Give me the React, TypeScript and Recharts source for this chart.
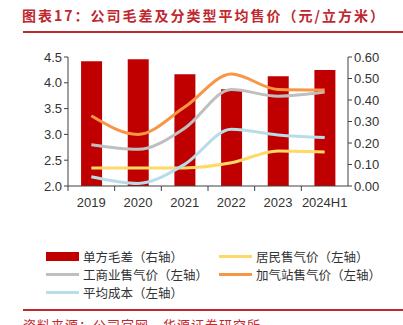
import { ComposedChart, Bar, Line, XAxis, YAxis } from 'recharts'

const years = ['2019', '2020', '2021', '2022', '2023', '2024H1']
const margin = [0.58, 0.59, 0.52, 0.45, 0.51, 0.54]
const residential = [2.35, 2.35, 2.35, 2.45, 2.68, 2.66]
const commercial = [2.8, 2.71, 3.12, 3.87, 3.74, 3.82]
const station = [3.36, 3.0, 3.53, 4.17, 3.87, 3.86]
const avgCost = [2.18, 2.05, 2.42, 3.1, 2.99, 2.94]
const leftTicks = [2.0, 2.5, 3.0, 3.5, 4.0, 4.5]
const rightTicks = [0, 0.1, 0.2, 0.3, 0.4, 0.5, 0.6]

const data = years.map((year, i) => ({
  year,
  margin: margin[i],
  residential: residential[i],
  commercial: commercial[i],
  station: station[i],
  avgCost: avgCost[i],
}))

const RED = '#C00000'
const AXIS = '#404040'
const FONT = '"Liberation Sans", Arial, "Noto Sans CJK SC", sans-serif'
const CJK = '"Noto Sans CJK SC", sans-serif'

const lines = [
  { key: 'residential', color: '#FFD966' },
  { key: 'commercial', color: '#BFBFBF' },
  { key: 'station', color: '#F79646' },
  { key: 'avgCost', color: '#B7DEE8' },
]

const legendRows = [
  [
    { label: '单方毛差（右轴）', color: RED, bar: true },
    { label: '居民售气价（左轴）', color: '#FFD966' },
  ],
  [
    { label: '工商业售气价（左轴）', color: '#BFBFBF' },
    { label: '加气站售气价（左轴）', color: '#F79646' },
  ],
  [{ label: '平均成本（左轴）', color: '#B7DEE8' }],
]

function YearTick(props: any) {
  const { x, y, payload } = props
  const half = payload?.offset ?? 23.3
  return (
    <g>
      <line x1={x - half} x2={x - half} y1={y} y2={y + 5} stroke={AXIS} strokeWidth={1} />
      <text x={x} y={y + 21} textAnchor="middle" fontSize={13} fill="#333" fontFamily={FONT}>
        {payload.value}
      </text>
    </g>
  )
}

export default function App() {
  return (
    <div style={{ position: 'absolute', left: 0, top: 0, width: 403, height: 325, background: '#fff', overflow: 'hidden' }}>
      <div
        style={{
          position: 'absolute', left: 22, top: 5, fontFamily: CJK, fontSize: 14, fontWeight: 700,
          letterSpacing: 2, color: '#C0282F', whiteSpace: 'nowrap',
        }}
      >
        图表17：公司毛差及分类型平均售价（元/立方米）
      </div>
      <div style={{ position: 'absolute', left: 23, top: 31, width: 380, height: 1.5, background: '#C0282F' }} />

      <div style={{ position: 'absolute', left: 0, top: 0 }}>
        <ComposedChart width={403} height={216} data={data} margin={{ top: 57, right: 0, bottom: 0, left: 0 }} barCategoryGap="28%">
          <XAxis
            dataKey="year"
            xAxisId="x"
            height={30}
            stroke={AXIS}
            tickLine={false}
            tickSize={0}
            tickMargin={0}
            tick={<YearTick />}
            interval={0}
          />
          <YAxis
            yAxisId="left"
            orientation="left"
            width={68}
            domain={[2, 4.5]}
            ticks={leftTicks}
            tickFormatter={(v: number) => v.toFixed(1)}
            stroke={AXIS}
            tickSize={4}
            tick={{ fill: '#333', fontSize: 13, fontFamily: FONT }}
          />
          <YAxis
            yAxisId="right"
            orientation="right"
            width={55}
            domain={[0, 0.6]}
            ticks={rightTicks}
            tickFormatter={(v: number) => v.toFixed(2)}
            stroke={AXIS}
            tickSize={4}
            tick={{ fill: '#333', fontSize: 13, fontFamily: FONT }}
          />
          <Bar dataKey="margin" xAxisId="x" yAxisId="right" fill={RED} isAnimationActive={false} />
          {lines.map((l) => (
            <Line
              key={l.key}
              type="monotone"
              dataKey={l.key}
              xAxisId="x"
              yAxisId="left"
              stroke={l.color}
              strokeWidth={3}
              dot={false}
              isAnimationActive={false}
            />
          ))}
        </ComposedChart>
      </div>

      {legendRows.map((row, r) => (
        <div key={r}>
          {row.map((item: any, c) => (
            <div
              key={c}
              style={{
                position: 'absolute', left: c === 0 ? 46 : 219, top: 247 + r * 18, height: 18,
                display: 'flex', alignItems: 'center', whiteSpace: 'nowrap',
              }}
            >
              <span
                style={{
                  display: 'inline-block', width: 33, height: item.bar ? 9 : 3,
                  background: item.color, marginRight: 4,
                }}
              />
              <span style={{ fontFamily: CJK, fontSize: 12.5, color: '#333' }}>{item.label}</span>
            </div>
          ))}
        </div>
      ))}

      <div style={{ position: 'absolute', left: 23, top: 309, width: 380, height: 1.5, background: '#C0282F' }} />
      <div
        style={{
          position: 'absolute', left: 23, top: 315, fontFamily: CJK, fontSize: 13,
          color: '#C0282F', whiteSpace: 'nowrap', letterSpacing: 1,
        }}
      >
        资料来源：公司官网，华源证券研究所
      </div>
    </div>
  )
}
